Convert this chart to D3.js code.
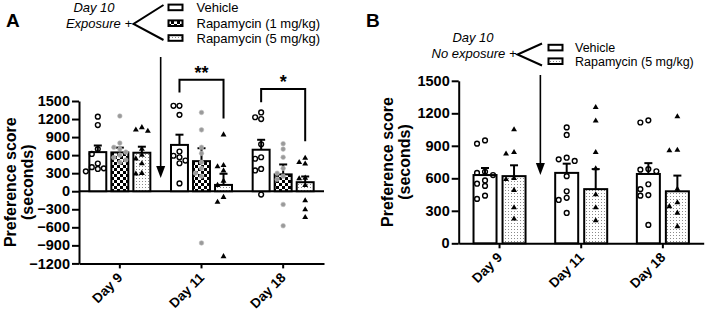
<!DOCTYPE html>
<html>
<head>
<meta charset="utf-8">
<script src="https://cdn.jsdelivr.net/npm/d3@7"></script>
<style>
  body { margin: 0; background: #fff; }
  svg { display: block; }
  text { font-family: Arial, 'Liberation Sans', sans-serif; fill: #000; }
</style>
</head>
<body>
<svg id="chart" width="706" height="312"></svg>
<script>
// ---- data ----
const days = ['Day 9', 'Day 11', 'Day 18'];
const groupsA = ['Vehicle', 'Rapamycin (1 mg/kg)', 'Rapamycin (5 mg/kg)'];
const groupsB = ['Vehicle', 'Rapamycin (5 mg/kg)'];
const ticksA = [-1200, -900, -600, -300, 0, 300, 600, 900, 1200, 1500];
const ticksB = [0, 300, 600, 900, 1200, 1500];

// rows = day, columns = group
const meanA = [[650, 645, 640], [770, 500, 105], [690, 280, 150]];
const semA = [[110, 80, 100], [170, 215, 185], [165, 165, 95]];
const pointsA = [
  [[1240, 1100, 700, 620, 460, 400, 380, 370, 330],
   [1250, 800, 730, 700, 650, 600, 560, 520, 480],
   [1060, 1020, 1000, 700, 600, 540, 460, 300, 290]],
  [[1420, 1420, 1270, 660, 590, 565, 510, 465, 130],
   [1310, 1020, 730, 630, 480, 380, 300, 250, -860],
   [940, 430, 410, 340, 170, 100, -100, -180, -1085]],
  [[1310, 1230, 1200, 780, 565, 540, 370, 345, -55],
   [790, 700, 565, 380, 300, 250, 200, -220, -575],
   [550, 480, 455, 220, 210, 100, -155, -305, -435]]
];

const meanB = [[630, 620], [650, 500], [640, 480]];
const semB = [[65, 100], [85, 185], [100, 145]];
const pointsB = [
  [[950, 920, 660, 650, 630, 580, 550, 530, 440, 410],
   [1050, 840, 825, 600, 590, 490, 330, 225]],
  [[1070, 1000, 790, 775, 760, 620, 480, 420, 400, 280],
   [1255, 1130, 840, 690, 450, 330, 210]],
  [[1135, 1115, 685, 680, 665, 545, 500, 445, 440, 170],
   [1170, 860, 855, 500, 375, 340, 280, 155]]
];

// ---- setup ----
const svg = d3.select('#chart');
const FONT = "Arial, 'Liberation Sans', sans-serif";

const defs = svg.append('defs');
const checker = defs.append('pattern')
  .attr('id', 'checker').attr('patternUnits', 'userSpaceOnUse')
  .attr('width', 6).attr('height', 6);
checker.append('rect').attr('width', 6).attr('height', 6).attr('fill', '#fff');
checker.append('rect').attr('width', 3).attr('height', 3).attr('fill', '#000');
checker.append('rect').attr('x', 3).attr('y', 3).attr('width', 3).attr('height', 3).attr('fill', '#000');

const dots = defs.append('pattern')
  .attr('id', 'dots').attr('patternUnits', 'userSpaceOnUse')
  .attr('width', 3).attr('height', 3);
dots.append('rect').attr('width', 3).attr('height', 3).attr('fill', '#fff');
dots.append('rect').attr('x', 1).attr('y', 1).attr('width', 1).attr('height', 1).attr('fill', '#8a8a8a');

const fills = {
  'Vehicle': '#fff',
  'Rapamycin (1 mg/kg)': 'url(#checker)',
  'Rapamycin (5 mg/kg)': 'url(#dots)'
};

// simple dodge so points with similar values spread sideways
function dodge(values, y, step, minDist) {
  const order = values.map((v, i) => i).sort((a, b) => values[b] - values[a]);
  const placed = [];
  const out = new Array(values.length);
  order.forEach(i => {
    const py = y(values[i]);
    const tries = [0, -1, 1, -2, 2, -3, 3];
    let off = 0;
    for (const t of tries) {
      const px = t * step;
      const ok = placed.every(p => Math.hypot(p[0] - px, p[1] - py) >= minDist);
      if (ok) { off = px; break; }
    }
    placed.push([off, py]);
    out[i] = off;
  });
  return out;
}

function drawPoints(g, group, cx, vals, y, step) {
  const offs = dodge(vals, y, step, 5.2);
  vals.forEach((v, i) => {
    const px = cx + offs[i], py = y(v);
    if (group === 'Vehicle') {
      g.append('circle').attr('cx', px).attr('cy', py).attr('r', 2.4)
        .attr('fill', 'none').attr('stroke', '#000').attr('stroke-width', 1.4);
    } else if (group === 'Rapamycin (1 mg/kg)') {
      g.append('circle').attr('cx', px).attr('cy', py).attr('r', 2.3)
        .attr('fill', '#9a9a9a').attr('stroke', '#bdbdbd').attr('stroke-width', 0.6);
    } else {
      g.append('path').attr('d', d3.symbol(d3.symbolTriangle).size(15)())
        .attr('transform', `translate(${px},${py})`).attr('fill', '#000');
    }
  });
}

function styleAxis(g, size) {
  g.selectAll('path.domain').attr('stroke', '#000').attr('stroke-width', 2);
  g.selectAll('.tick line').attr('stroke', '#000').attr('stroke-width', 2);
  g.selectAll('.tick text').attr('font-family', FONT).attr('font-weight', 'bold')
    .attr('font-size', size).attr('fill', '#000');
}

function drawPanel(p) {
  const g = svg.append('g');
  const y = d3.scaleLinear().domain(p.yDomain).range(p.yRange);
  const x0 = d3.scaleBand().domain(days).range(p.xRange)
    .paddingInner(p.padIn).paddingOuter(p.padIn / 2);
  const x1 = d3.scaleBand().domain(p.groups).range([0, x0.bandwidth()])
    .paddingInner(p.barPad);

  // y axis
  g.append('g').attr('transform', `translate(${p.xRange[0]},0)`)
    .call(d3.axisLeft(y).tickValues(p.ticks).tickSize(7).tickSizeOuter(0).tickPadding(2).tickFormat(d3.format('d')))
    .call(styleAxis, '14.5px');

  // bottom axis
  g.append('g').attr('transform', `translate(0,${p.yRange[0]})`)
    .call(d3.axisBottom(x0).tickSize(5).tickSizeOuter(0))
    .call(styleAxis, '13.5px')
    .call(a => a.selectAll('.tick text')
      .attr('text-anchor', 'end').attr('x', 0).attr('y', 0).attr('dy', 0)
      .attr('transform', 'translate(3.5,15) rotate(-45)'));

  // zero line (panel A)
  if (p.yDomain[0] < 0) {
    g.append('line').attr('x1', p.xRange[0]).attr('x2', p.xRange[1])
      .attr('y1', y(0)).attr('y2', y(0)).attr('stroke', '#000').attr('stroke-width', 2);
  }

  // bars + error bars
  days.forEach((day, di) => {
    p.groups.forEach((grp, gi) => {
      const m = p.mean[di][gi];
      const s = p.sem[di][gi];
      const bx = x0(day) + x1(grp);
      const bw = x1.bandwidth();
      const cx = bx + bw / 2;
      g.append('rect').attr('x', bx).attr('y', y(m)).attr('width', bw)
        .attr('height', y(0) - y(m)).attr('fill', fills[grp])
        .attr('stroke', '#000').attr('stroke-width', 2);
      g.append('line').attr('x1', cx).attr('x2', cx).attr('y1', y(m)).attr('y2', y(m + s))
        .attr('stroke', '#000').attr('stroke-width', 2);
      g.append('line').attr('x1', cx - 4).attr('x2', cx + 4).attr('y1', y(m + s)).attr('y2', y(m + s))
        .attr('stroke', '#000').attr('stroke-width', 2);
    });
  });
  days.forEach((day, di) => {
    p.groups.forEach((grp, gi) => {
      const cx = x0(day) + x1(grp) + x1.bandwidth() / 2;
      drawPoints(g, grp, cx, p.points[di][gi], y, p.jitter);
    });
  });

  // y title
  const tcx = p.titleX, tcy = (p.yRange[0] + p.yRange[1]) / 2;
  const title = g.append('text').attr('transform', `translate(${tcx},${tcy}) rotate(-90)`)
    .attr('text-anchor', 'middle').attr('font-weight', 'bold').attr('font-size', '16px');
  title.append('tspan').attr('x', 0).attr('dy', 0).text('Preference score');
  title.append('tspan').attr('x', 0).attr('dy', 17).text('(seconds)');

  // arrow between Day 9 and Day 11
  const ax = (x0('Day 9') + x0.bandwidth() + x0('Day 11')) / 2;
  g.append('line').attr('x1', ax).attr('x2', ax).attr('y1', p.arrowTop).attr('y2', p.arrowTip - 10)
    .attr('stroke', '#000').attr('stroke-width', 1.6);
  g.append('path').attr('d', `M${ax - 4.5},${p.arrowTip - 12}L${ax + 4.5},${p.arrowTip - 12}L${ax},${p.arrowTip}Z`)
    .attr('fill', '#000');

  // panel letter
  g.append('text').attr('x', p.letterX).attr('y', p.letterY)
    .attr('font-weight', 'bold').attr('font-size', '19px').text(p.letter);

  // treatment legend
  const L = p.legend;
  g.append('text').attr('x', L.dayX).attr('y', L.dayY).attr('text-anchor', 'middle')
    .attr('font-style', 'italic').attr('font-size', '13px').text('Day 10');
  g.append('text').attr('x', L.plusX).attr('y', L.plusY).attr('text-anchor', 'end')
    .attr('font-style', 'italic').attr('font-size', '13px').text(L.label);
  g.append('path').attr('d', `M${L.forkX2},${L.forkTop}L${L.forkX1},${L.forkMid}L${L.forkX2},${L.forkBot}`)
    .attr('fill', 'none').attr('stroke', '#000').attr('stroke-width', 2);
  p.groups.forEach((grp, i) => {
    const cy = L.rowY[i];
    g.append('rect').attr('x', L.boxX).attr('y', cy - 2.8).attr('width', 14).attr('height', 5.6)
      .attr('fill', fills[grp]).attr('stroke', '#000').attr('stroke-width', 2);
    g.append('text').attr('x', L.textX).attr('y', cy + 4.5).attr('font-size', L.fontSize).text(grp);
  });

  return { x0, x1, y, g };
}

// ---- panel A ----
const A = drawPanel({
  letter: 'A', letterX: 6, letterY: 27,
  groups: groupsA, mean: meanA, sem: semA, points: pointsA,
  yDomain: [-1200, 1500], yRange: [263.4, 101], ticks: ticksA,
  xRange: [79, 324], padIn: 0.253, barPad: 0.23, jitter: 6,
  titleX: 15.5,
  arrowTop: 57, arrowTip: 178,
  legend: {
    dayX: 94, dayY: 11.7, plusX: 132, plusY: 28.3, label: 'Exposure +',
    forkX1: 133.5, forkX2: 163.5, forkTop: 5, forkMid: 24, forkBot: 40,
    boxX: 168.5, textX: 196.5, rowY: [7.4, 23.2, 38], fontSize: '13px'
  }
});

// significance brackets
function bracket(P, day, gFrom, gTo, vTop, vLeft, vRight, label) {
  const xl = P.x0(day) + P.x1(gFrom) + P.x1.bandwidth() / 2;
  const xr = P.x0(day) + P.x1(gTo) + P.x1.bandwidth() / 2;
  const yt = P.y(vTop);
  P.g.append('path')
    .attr('d', `M${xl},${P.y(vLeft)}L${xl},${yt}L${xr},${yt}L${xr},${P.y(vRight)}`)
    .attr('fill', 'none').attr('stroke', '#000').attr('stroke-width', 2);
  P.g.append('text').attr('x', (xl + xr) / 2).attr('y', yt - 1).attr('text-anchor', 'middle')
    .attr('font-weight', 'bold').attr('font-size', '18px').text(label);
}
bracket(A, 'Day 11', 'Vehicle', 'Rapamycin (5 mg/kg)', 1855, 1640, 1210, '**');
bracket(A, 'Day 18', 'Vehicle', 'Rapamycin (5 mg/kg)', 1700, 1480, 830, '*');

// ---- panel B ----
drawPanel({
  letter: 'B', letterX: 366, letterY: 27,
  groups: groupsB, mean: meanB, sem: semB, points: pointsB,
  yDomain: [0, 1500], yRange: [243.3, 80.8], ticks: ticksB,
  xRange: [458.7, 703.7], padIn: 0.363, barPad: 0.207, jitter: 8,
  titleX: 393,
  arrowTop: 75, arrowTip: 175,
  legend: {
    dayX: 473, dayY: 42.3, plusX: 516.5, plusY: 58.3, label: 'No exposure +',
    forkX1: 517.5, forkX2: 542, forkTop: 43.5, forkMid: 54.5, forkBot: 65.5,
    boxX: 548.5, textX: 575, rowY: [47.6, 61.2], fontSize: '12.5px'
  }
});
</script>
</body>
</html>
